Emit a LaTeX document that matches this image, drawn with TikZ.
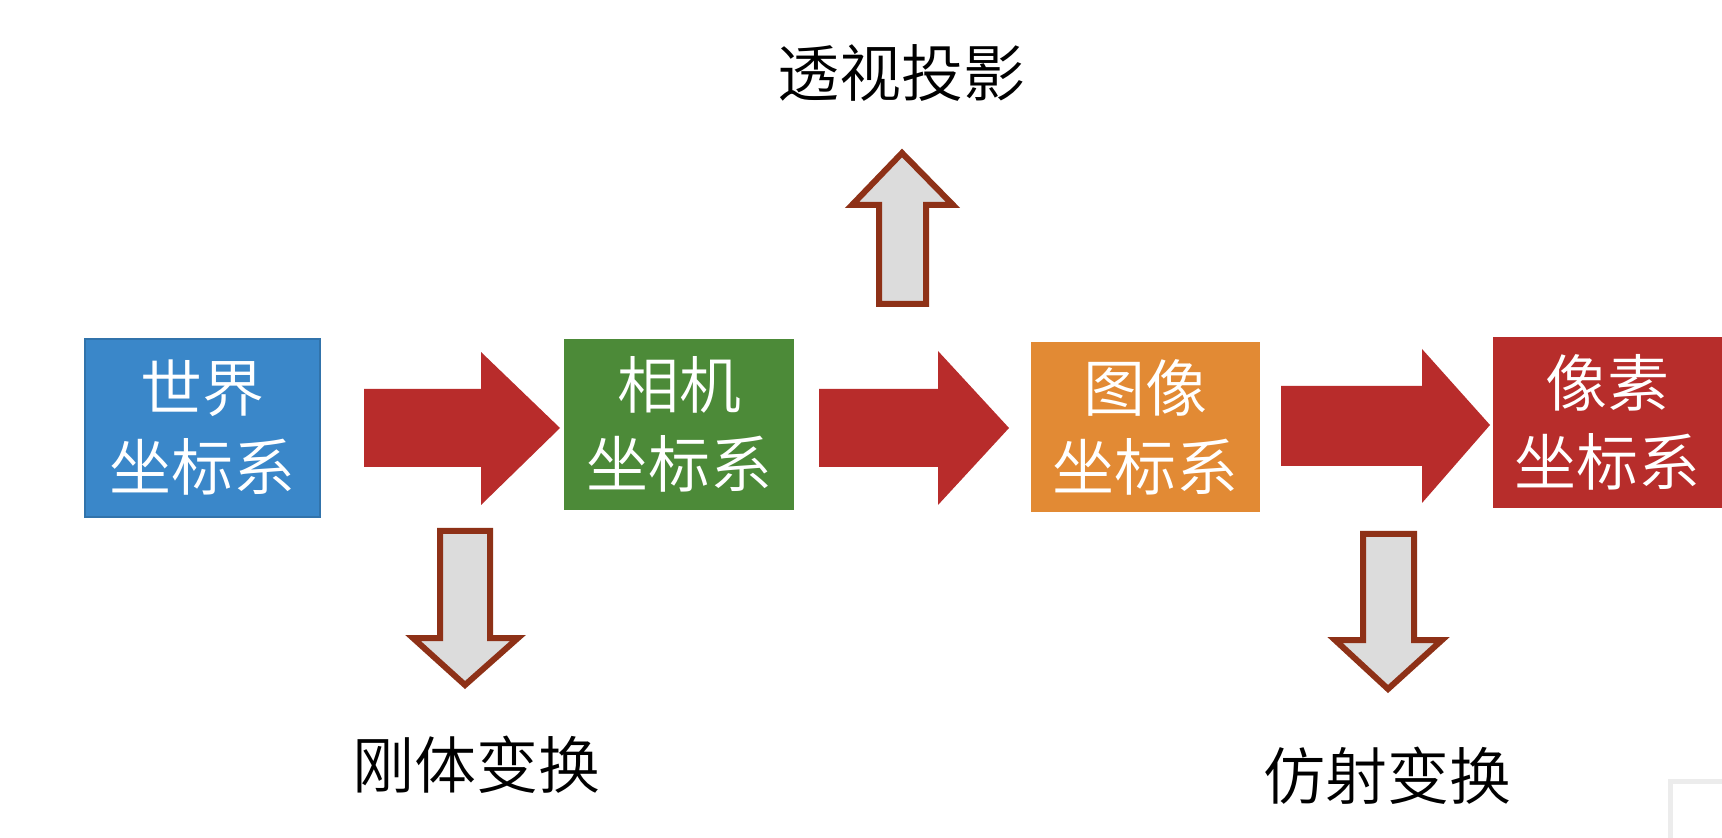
\documentclass[tikz,border=0pt]{standalone}
\usepackage{fontspec}
\usepackage{tikz}
\newfontfamily\cjk{Noto Sans CJK SC}[UprightFont={* DemiLight}]
\definecolor{worldblue}{HTML}{3A87C9}
\definecolor{camgreen}{HTML}{4C8A38}
\definecolor{imgorange}{HTML}{E28A34}
\definecolor{pixred}{HTML}{B72D2B}
\definecolor{flowred}{HTML}{B82C2B}
\definecolor{hintgray}{HTML}{DCDCDC}
\definecolor{hintrim}{HTML}{8E3117}

\begin{document}
\begin{tikzpicture}[x=0.5pt,y=-0.5pt,
  box/.style={inner sep=0pt,text=white,align=center,font=\cjk\fontsize{31}{39.5}\selectfont},
  lab/.style={inner sep=0pt,text=black,font=\cjk\fontsize{31}{39.5}\selectfont},
  hint/.style={fill=hintgray,draw=hintrim,line width=3pt,miter limit=4}]
\useasboundingbox (0,0) rectangle (1722,838);
\fill[white] (0,0) rectangle (1722,838);
\node[box,fill=worldblue,draw=worldblue!85!black,line width=0.6pt,minimum width=117.5pt,minimum height=89pt] (world) at (202.5,428) {世界\\坐标系};
\node[box,fill=camgreen,minimum width=115pt,minimum height=85.5pt] (camera) at (679,424.5) {相机\\坐标系};
\node[box,fill=imgorange,minimum width=114.5pt,minimum height=85pt] (image) at (1145.5,427) {图像\\坐标系};
\node[box,fill=pixred,minimum width=114.5pt,minimum height=85.5pt] (pixel) at (1607.5,422.5) {像素\\坐标系};
\fill[flowred] (364,389)--(481,389)--(481,352)--(560,428)--(481,505)--(481,467)--(364,467)--cycle;
\fill[flowred] (819,389)--(938,389)--(938,351)--(1009,428)--(938,505)--(938,467)--(819,467)--cycle;
\fill[flowred] (1281,386)--(1422,386)--(1422,349)--(1490,425)--(1422,503)--(1422,466)--(1281,466)--cycle;
\draw[hint] (879,304)--(879,205)--(852,205)--(902,153)--(953,205)--(926,205)--(926,304)--cycle;
\draw[hint] (440,531)--(490,531)--(490,638)--(518,638)--(465,685)--(413,638)--(440,638)--cycle;
\draw[hint] (1363,534)--(1414,534)--(1414,640)--(1442,640)--(1388,689)--(1335,640)--(1363,640)--cycle;
\node[lab] (persp) at (901,73) {透视投影};
\node[lab] (rigid) at (476,765) {刚体变换};
\node[lab] (affine) at (1387,776) {仿射变换};
%\draw[color=gray!15] (1670,781) rectangle (1722,838);
\draw[line width=2.5pt,color=gray!15] (1722,781)--(1670.5,781)--(1670.5,838);
\end{tikzpicture}
\end{document}
